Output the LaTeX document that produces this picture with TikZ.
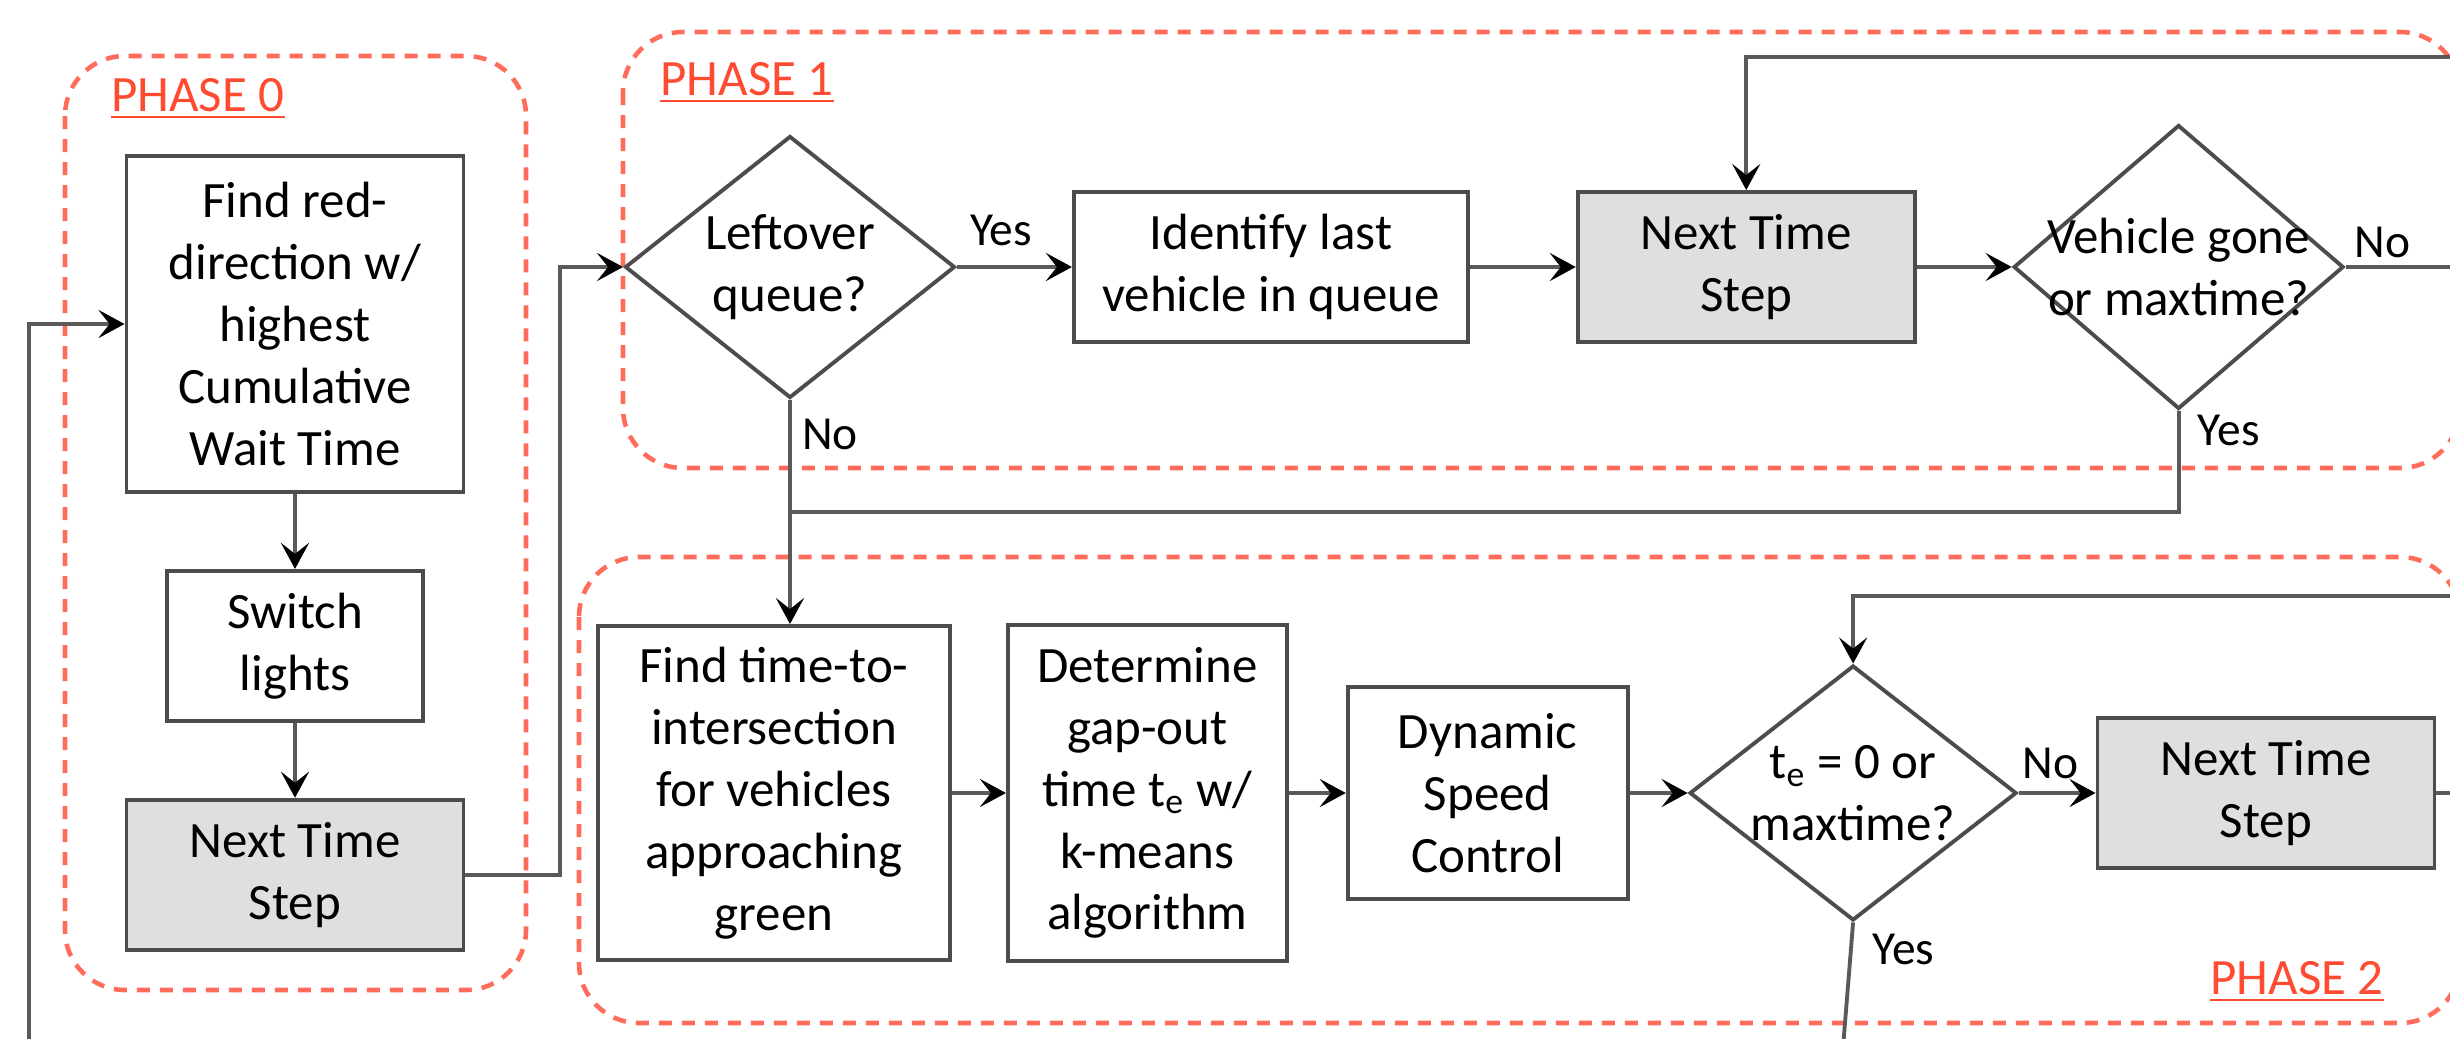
\documentclass[tikz,border=0pt]{standalone}
\usepackage{fontspec}
\setmainfont{Carlito}
\usepackage{xcolor}
\usetikzlibrary{positioning,arrows.meta,shapes.geometric}
\definecolor{phred}{RGB}{255,108,92}
\definecolor{phtext}{RGB}{255,75,50}

\begin{document}
\begin{tikzpicture}[
    box/.style={draw=black!70,fill=white,line width=1.1pt,align=center,inner sep=2pt,font=\fontsize{14.5}{17.6}\selectfont},
    nts/.style={box,fill=gray!25,minimum width=3.37cm,minimum height=1.5cm},
    dec/.style={diamond,draw=black!70,fill=white,line width=1.1pt,inner sep=0pt},
    dtxt/.style={align=center,font=\fontsize{14.5}{17.6}\selectfont},
    lbl/.style={font=\fontsize{13.5}{15}\selectfont,inner sep=1pt},
    line/.style={draw=black!65,line width=1.1pt},
    arr/.style={line,-{Stealth[length=2.6mm,width=2.8mm,inset=1.1mm,color=black]}},
    phase/.style={draw=phred,line width=1.3pt,dash pattern=on 1.3mm off 1mm,rounded corners=6mm},
    phlbl/.style={text=phtext,font=\fontsize{14.5}{17}\selectfont}
  ]
  \clip (0,0) rectangle (24.5,-10.39);
  % phase frames
  \draw[phase] (0.65,-0.56) rectangle (5.26,-9.9);
  \draw[phase] (6.23,-0.32) rectangle (24.6,-4.68);
  \draw[phase] (5.79,-5.57) rectangle (24.6,-10.23);
  \node[phlbl] (p0) at (1.98,-0.99) {\underline{PHASE 0}};
  \node[phlbl] (p1) at (7.47,-0.83) {\underline{PHASE 1}};
  \node[phlbl] (p2) at (22.97,-9.82) {\underline{PHASE 2}};

  % phase 0
  \node[box,minimum width=3.37cm,minimum height=3.36cm] (a) at (2.95,-3.24) {Find red-\\direction w/\\highest\\Cumulative\\Wait Time};
  \node[box,minimum width=2.56cm,minimum height=1.5cm,below=0.75cm of a] (b) {Switch\\lights};
  \node[nts,below=0.75cm of b] (c) {Next Time\\Step};

  % phase 1
  \node[dec,minimum width=3.3cm,minimum height=2.62cm,label={[dtxt]center:Leftover\\queue?}] (d1) at (7.9,-2.67) {};
  \node[box,minimum width=3.94cm,minimum height=1.5cm,right=1.15cm of d1] (e) {Identify last\\vehicle in queue};
  \node[nts,right=1.06cm of e] (f) {Next Time\\Step};
  \node[dec,minimum width=3.3cm,minimum height=2.84cm,right=0.95cm of f,label={[dtxt]center:Vehicle gone\\or maxtime?}] (d2) {};

  % phase 2
  \node[box,minimum width=3.52cm,minimum height=3.34cm] (g) at (7.74,-7.93) {Find time-to-\\intersection\\for vehicles\\approaching\\green};
  \node[box,minimum width=2.79cm,minimum height=3.36cm,right=0.54cm of g] (h) {Determine\\gap-out\\time t\textsubscript{e} w/\\k-means\\algorithm};
  \node[box,minimum width=2.8cm,minimum height=2.12cm,right=0.57cm of h] (i) {Dynamic\\Speed\\Control};
  \node[dec,minimum width=3.27cm,minimum height=2.55cm,right=0.58cm of i,label={[dtxt]center:t\textsubscript{e} = 0 or\\maxtime?}] (d3) {};
  \node[nts,right=0.77cm of d3] (j) {Next Time\\Step};

  % connectors
  \draw[arr] (a) -- (b);
  \draw[arr] (b) -- (c);
  \draw[arr] (c.east) -- ++(0.945,0) |- (d1.west);
  \coordinate (lin) at (0.29,-10.6);
  \draw[arr] (lin) |- (a.west);
  \draw[arr] (d1) -- (e);
  \draw[arr] (e) -- (f);
  \draw[arr] (f) -- (d2);
  \draw[arr] (d2.east) -- ++(1.07,0) |- ([yshift=1.33cm]f.north) -- (f.north);
  \coordinate (join) at (7.9,-5.12);
  \draw[line] (d2.south) |- (join);
  \draw[arr] (d1.south) -- (d1.south |- g.north);
  \draw[arr] (g) -- (h);
  \draw[arr] (h) -- (i);
  \draw[arr] (i) -- (d3);
  \draw[arr] (d3) -- (j);
  \draw[arr] (j.east) -- ++(0.23,0) |- ([yshift=0.68cm]d3.north) -- (d3.north);
  \coordinate (dout) at (18.42,-10.6);
  \draw[line] (d3.south) -- (dout);

  % yes / no
  \node[lbl,above right=0.17cm and 0.09cm of d1.east] (y1) {Yes};
  \node[lbl,below right=0.15cm and 0.08cm of d1.south] (n1) {No};
  \node[lbl,above right=0.05cm and 0.05cm of d2.east] (n2) {No};
  \node[lbl,below right=0cm and 0.15cm of d2.south] (y2) {Yes};
  \node[lbl,above right=0.1cm and 0cm of d3.east] (n3) {No};
  \node[lbl,below right=0.07cm and 0.15cm of d3.south] (y3) {Yes};
\end{tikzpicture}
\end{document}
